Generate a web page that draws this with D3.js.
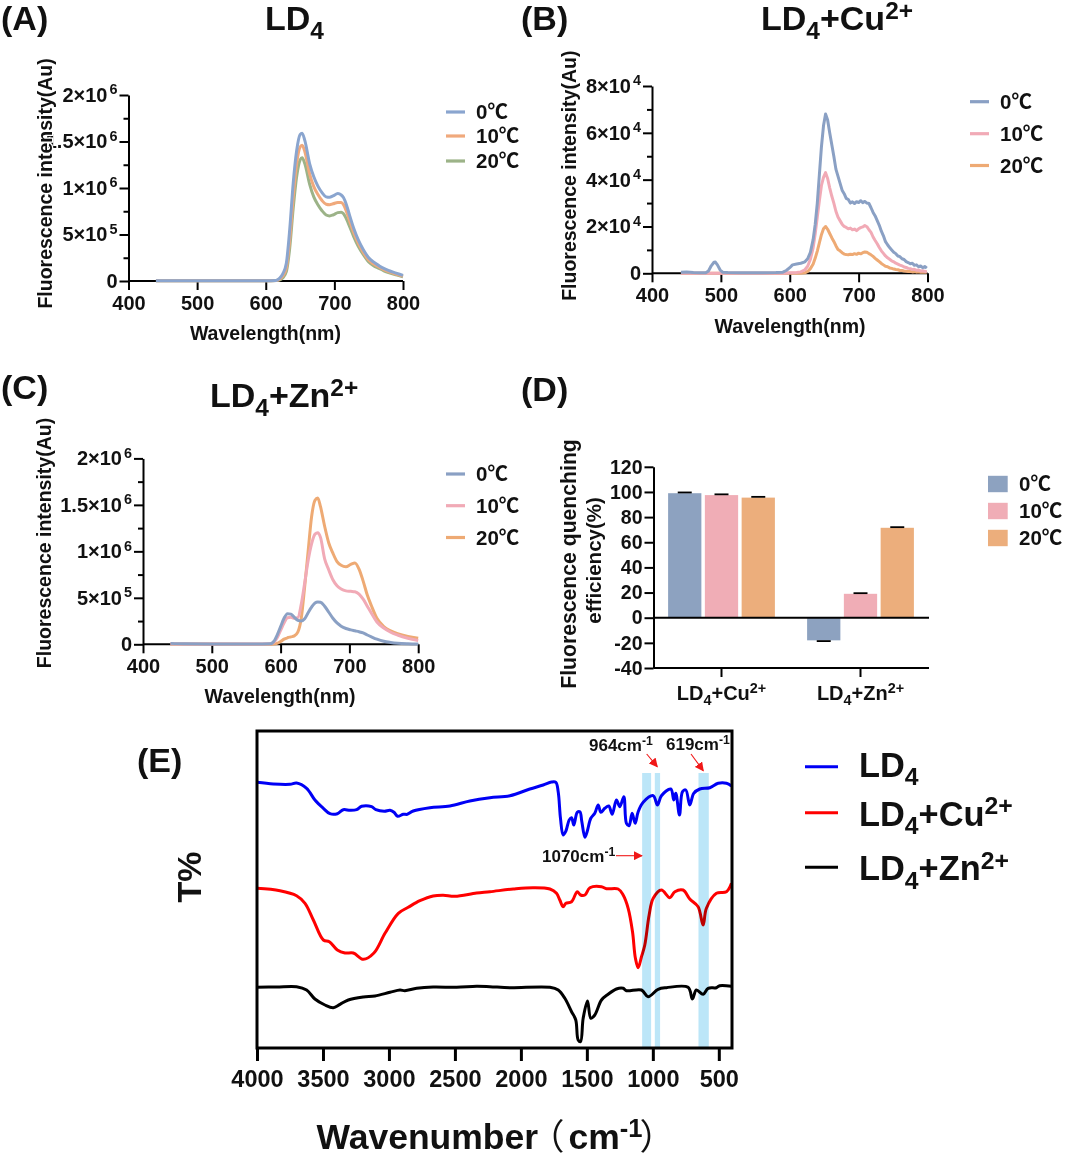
<!DOCTYPE html>
<html lang="en">
<head>
<meta charset="UTF-8">
<title>Fluorescence spectra</title>
<script src="https://d3js.org/d3.v7.min.js"></script>
<style>
  html, body { margin: 0; padding: 0; background: #fff; }
  svg { display: block; }
  text { font-family: "Liberation Sans", "Noto Sans CJK SC", sans-serif; font-weight: bold; fill: #111; }
  .axis path, .axis line { stroke: #000; stroke-width: 2px; }
</style>
</head>
<body>
<div id="chart"></div>
<script>
// panel A, wavelength (nm) and intensity (x 1000 Au)
const wlA = [440,500,600,615,620,625,630,635,640,645,650,653,657,664,670,676,682,688,693,698,705,710,713,718,722,728,735,742,750,757,765,772,780,790,800];
const a0 = [4,4,4,6,30,80,190,560,1050,1400,1575,1590,1510,1260,1120,1020,950,905,900,915,940,925,900,810,710,570,440,340,250,205,165,135,110,85,60];
const a10 = [4,4,4,6,20,55,140,450,900,1260,1440,1460,1390,1150,1015,930,865,825,820,830,845,845,825,740,650,525,405,310,225,185,150,122,98,74,52];
const a20 = [4,4,4,6,10,35,100,360,780,1120,1300,1325,1260,1040,905,820,755,710,700,710,735,740,725,660,590,480,370,285,205,165,135,110,88,66,46];

// panel B, x 1000 Au
const wlB = [442,450,460,470,478,482,486,490,492,495,499,503,510,530,560,580,590,595,600,604,610,616,622,626,630,634,637,
  640,643,646,649,652,655,658,661,664,667,670,673,676,679,682,685,688,691,694,697,700,703,706,709,712,715,718,721,724,727,730,733,736,739,742,745,748,751,754,757,760,763,766,769,772,775,778,781,784,787,790,793,796,799];
const b0 = [.5,.6,.3,.2,.2,1,3.2,4.7,4.8,3.6,1.4,.4,.3,.2,.2,.3,.5,1.2,2.4,3.6,4,4.3,4.9,6.2,9,14.5,21,
  30,42,54,63,68,65.5,60,55,50,44.5,41.5,38.5,35.5,34,32,31.5,30,30.5,29.8,30.6,30.2,31,30.2,30.7,30,29.8,28,26,24.5,22.5,20.5,18,16,13.5,12.2,11,10,9,8.4,7.4,7.1,6.2,5.9,5,4.6,4.1,4.3,3.4,3.6,2.8,3.1,2.4,2.9,2.2];
const b10 = [0,0,0,0,0,0,0,0,0,0,0,0,0,0,0,0,0,.1,.2,.2,.3,.6,1.5,3,6,11,17,
  24,31,37.5,41,43,40.5,36.5,33,30,26.5,24,22.5,21,20,19.6,19,19.3,18.6,18.9,18.2,19,19.5,19.8,20.4,19.9,18.6,17.5,15.5,14,12.6,11,9.6,8.5,7.4,6.6,6,5.3,4.9,4.3,3.9,3.5,3.2,2.7,2.5,2.1,2,1.6,1.7,1.3,1.4,1,1.1,.8,.8];
const b20 = [0,0,0,0,0,0,0,0,0,0,0,0,0,0,0,0,0,0,0,0,0,0,.2,.8,2,4,6.5,
  9.5,13,16.5,19,20,18.8,17,15.2,13.6,11.8,10.2,9.6,8.8,8.2,8,7.9,8.1,8,8.4,8.1,8.6,8.3,8.8,9.1,9,8.4,7.9,7.2,6.4,5.7,5,4.2,3.6,3,2.8,2.3,2.1,1.8,1.6,1.5,1.2,1.2,1,.9,.8,.8,.6,.7,.5,.6,.4,.5,.4,.4];

// panel C, x 1000 Au
const wlC = [440,460,500,560,585,590,595,600,605,610,615,620,625,630,635,640,645,650,654,658,664,670,676,682,688,695,702,708,714,720,726,732,740,750,760,770,785,800];
const c0 = [10,6,4,2,5,30,100,190,280,330,325,290,258,252,275,340,400,445,455,452,410,345,280,230,195,170,155,145,135,122,100,80,55,32,20,12,6,3];
const c10 = [5,3,3,2,5,20,70,150,230,285,290,280,285,430,660,900,1080,1185,1200,1150,920,800,695,630,595,575,570,565,540,485,410,335,240,175,130,100,65,40];
const c20 = [3,2,2,1,0,3,10,30,55,70,80,90,130,280,620,1000,1370,1550,1575,1480,1270,1090,980,890,850,835,860,875,810,680,530,415,280,190,145,115,85,65];

// panel D
const groupNames = ["Cu", "Zn"];
const tempNames = ["0℃", "10℃", "20℃"];
const quenchCu = [99, 97.5, 95.5];
const quenchZn = [-18, 19, 71.5];
const errCu = [.6, .6, .6];
const errZn = [.6, .5, .5];
const tickD = [-40,-20,0,20,40,60,80,100,120];

const blueWn = [4000,3876,3750,3700,3624,3561,3497,3447,3391,3346,3295,3245,3207,3131,3099,3035,2992,2962,2934,2891,2861,2816,2690,2538,2387,2235,2083,1932,1831,1768,1735,1717,1700,1680,1659,1634,1616,1599,1573,1553,1538,1515,1498,1470,1440,1414,1394,1364,1334,1308,1276,1250,1220,1200,1180,1157,1134,1111,1073,997,965,935,864,841,826,798,775,750,720,690,644,568,505,442,404];
const blueT = [265.7,264,263.7,265,259.7,248,239.7,234.3,234.3,238.3,237.7,238.3,241.7,241.3,238.3,236.7,237.7,235.7,231.7,233.7,233.7,237,240.3,242,247,250.3,252.3,259,263,266,265.7,256,229.7,213,217,228,230.3,223,235.7,236.3,226.3,210.7,216.3,229.7,234.7,243,235.7,239.7,242,233.7,248,241.3,251.3,224.7,222.3,234.7,224.7,236.3,245.7,252.3,243,252.3,259,248,254.7,233,256.3,258,243,254.7,259,260.3,264.7,264.7,262];
const redWn = [4000,3826,3700,3636,3573,3497,3452,3391,3333,3270,3194,3114,3030,2929,2854,2765,2665,2589,2500,2336,2235,2058,1907,1780,1730,1705,1680,1659,1616,1573,1548,1515,1477,1389,1351,1263,1225,1187,1154,1132,1111,1086,1061,1028,997,935,871,833,771,720,657,619,594,518,442,404];
const redT = [159.7,157.3,152.3,144.7,128,108,106.3,98,95,95,88.7,95,114.7,134.7,140.7,147.3,152,152.7,151.7,155,156.3,159,160.3,159,154.7,148,141.3,144.7,146.3,156.3,153,153,160.3,161.3,159.3,159,153,139.7,116.3,89.7,80.3,91.3,103,133,149.7,158,150.3,156.3,158,149,141.3,123,139.7,154.7,156.3,164.7];
const blackWn = [4000,3851,3700,3624,3561,3485,3422,3371,3308,3194,3106,2992,2916,2879,2790,2665,2487,2336,2235,2083,1780,1717,1667,1616,1584,1566,1548,1528,1495,1470,1440,1389,1339,1276,1225,1200,1086,1036,960,897,733,700,670,619,581,518,493,404];
const blackT = [60.7,61,61.3,58,49,43,40.3,43.7,48,51,52,55.7,58,57.3,59.7,61,60.7,61.7,61.3,60.3,60.7,58,49.7,36.3,28,8,6.3,29.7,47,29.7,33,48,53.7,59,59.7,57.3,58,51.3,58.7,60.3,60.7,49,58,53.7,59.7,60.3,62.3,61.7];
const bandStart = [1081, 985, 654];
const bandEnd = [1013, 945, 576];
const wnTicks = [4000,3500,3000,2500,2000,1500,1000,500];

const W = 1065, H = 1155;
const svg = d3.select("#chart").append("svg").attr("width", W).attr("height", H);

// writes text pieces, pieces with "sup" or "sub" get raised or lowered, p[2] is an optional dx
function rich(sel, parts, size) {
    let shift = 0;
    parts.forEach(p => {
        const want = p[1] === "sup" ? -size * .33 : p[1] === "sub" ? size * .25 : 0;
        sel.append("tspan")
            .attr("font-size", p[1] ? size * .72 : size)
            .attr("dy", want - shift)
            .attr("dx", p[2] || 0)
            .style("white-space", "pre")
            .style("font-weight", p[3] || null)
            .text(p[0]);
        shift = want;
    });
}

function label(x, y, parts, size, anchor, rotate) {
    const t = svg.append("text")
        .attr("text-anchor", anchor || "start")
        .attr("transform", `translate(${x},${y})` + (rotate ? ` rotate(${rotate})` : ""));
    rich(t, typeof parts === "string" ? [[parts]] : parts, size);
    return t;
}

// tick strings like 5×10^5 become a number with a raised exponent
function powerTicks(g, strings, size) {
    g.selectAll(".tick text").each(function (d, i) {
        const t = d3.select(this).text(null).attr("font-size", size);
        const bits = strings[i].split("^");
        t.append("tspan").attr("font-size", size).text(bits[0]);
        if (bits[1]) {
            t.append("tspan").attr("font-size", size * .72).attr("dx", 2).attr("dy", -size * .38).text(bits[1]);
        }
    });
}

function spectrum(c) {
    const x = d3.scaleLinear().domain([400, 800]).range(c.xr);
    const y = d3.scaleLinear().domain([0, c.ymax]).range(c.yr);

    const gx = svg.append("g").attr("class", "axis").attr("transform", `translate(0,${c.yr[0]})`)
        .call(d3.axisBottom(x).tickValues([400,500,600,700,800]).tickSize(9).tickPadding(6).tickSizeOuter(0));
    gx.selectAll("text").attr("font-size", 20).attr("fill", "#111");
    gx.select(".domain").attr("d", `M${c.xr[0]},0H${c.xr[1]}`);

    const gy = svg.append("g").attr("class", "axis").attr("transform", `translate(${c.xr[0]},0)`)
        .call(d3.axisLeft(y).tickValues(c.ticks).tickSize(9).tickPadding(2).tickSizeOuter(0));
    gy.selectAll("text").attr("fill", "#111");
    powerTicks(gy, c.tickText, 20);
    svg.append("g").attr("class", "axis").attr("transform", `translate(${c.xr[0]},0)`)
        .call(d3.axisLeft(y).tickValues(c.minor).tickSize(5).tickFormat("").tickSizeOuter(0))
        .select(".domain").remove();

    const line = d3.line().x((d, i) => x(c.wl[i])).y(d => y(d)).curve(c.curve);
    // coldest series ends up on top
    c.series.slice().reverse().forEach((s, i) => {
        svg.append("path").attr("d", line(s)).attr("fill", "none")
            .attr("stroke", c.colors[c.series.length - 1 - i]).attr("stroke-width", 3)
            .attr("stroke-linejoin", "round");
    });

    label(c.xTitle[0], c.xTitle[1], "Wavelength(nm)", 19.5, "middle");
    const yt = label(c.yTitle[0], c.yTitle[1], "Fluorescence intensity(Au)", 19.5, "middle", -90);
    // in panel A the title sits over the 1.5 tick label and hides its first digit
    if (c.halo) yt.attr("stroke", "#fff").attr("stroke-width", 2.5).attr("paint-order", "stroke");

    c.legendY.forEach((ly, i) => {
        svg.append("line").attr("x1", c.legendX).attr("x2", c.legendX + 19).attr("y1", ly).attr("y2", ly)
            .attr("stroke", c.colors[i]).attr("stroke-width", 3.2);
        label(c.legendX + 30, ly + 7, tempNames[i], 20.5);
    });
}

const tickM = [0, 500, 1000, 1500, 2000];
const tickMText = ["0", "5×10^5", "1×10^6", "1.5×10^6", "2×10^6"];
const minorM = [250, 750, 1250, 1750];

spectrum({
    wl: wlA, series: [a0, a10, a20], colors: ["#8aa5cf", "#f0a97c", "#9cb388"], curve: d3.curveMonotoneX, halo: true,
    xr: [128.5, 403], yr: [281, 95], ymax: 2000, ticks: tickM, tickText: tickMText, minor: minorM,
    xTitle: [265.4, 340], yTitle: [52.4, 183.4], legendX: 446, legendY: [112, 136, 161]
});
spectrum({
    wl: wlB, series: [b0, b10, b20], colors: ["#8aa0c4", "#f1aab6", "#eeaa74"], curve: d3.curveLinear,
    xr: [652, 927.5], yr: [273.3, 86], ymax: 80, ticks: [0,20,40,60,80],
    tickText: ["0", "2×10^4", "4×10^4", "6×10^4", "8×10^4"], minor: [10,30,50,70],
    xTitle: [790, 332.7], yTitle: [576, 175.7], legendX: 970, legendY: [101.7, 133.7, 165.5]
});
spectrum({
    wl: wlC, series: [c0, c10, c20], colors: ["#8aa0c4", "#f1aab6", "#eeaa74"], curve: d3.curveMonotoneX,
    xr: [143, 418.2], yr: [644.3, 458.4], ymax: 2000, ticks: tickM, tickText: tickMText, minor: minorM,
    xTitle: [280, 703], yTitle: [50.7, 543], legendX: 446, legendY: [474, 505.7, 537.5]
});

// panel D
const barColors = ["#8da2c0", "#f0adb6", "#ecae7c"];
const yD = d3.scaleLinear().domain([-40, 120]).range([668, 466.8]);
const xD = d3.scaleBand().domain(groupNames).range([652, 930]);
const xTemp = d3.scaleBand().domain(tempNames).range([-53.4, 53.4]).paddingInner(.095);
const quench = { Cu: quenchCu, Zn: quenchZn };
const errs = { Cu: errCu, Zn: errZn };

groupNames.forEach(g => {
    const cx = xD(g) + xD.bandwidth() / 2;
    svg.append("g").selectAll("rect").data(quench[g]).join("rect")
        .attr("x", (d, i) => cx + xTemp(tempNames[i]))
        .attr("width", xTemp.bandwidth())
        .attr("y", d => Math.min(yD(d), yD(0)))
        .attr("height", d => Math.abs(yD(d) - yD(0)))
        .attr("fill", (d, i) => barColors[i]);
    svg.append("g").selectAll("line").data(quench[g]).join("line")
        .attr("x1", (d, i) => cx + xTemp(tempNames[i]) + xTemp.bandwidth() / 2 - 7)
        .attr("x2", (d, i) => cx + xTemp(tempNames[i]) + xTemp.bandwidth() / 2 + 7)
        .attr("y1", (d, i) => yD(d + Math.sign(d) * errs[g][i]))
        .attr("y2", (d, i) => yD(d + Math.sign(d) * errs[g][i]))
        .attr("stroke", "#000").attr("stroke-width", 1.8);
});

const gyD = svg.append("g").attr("class", "axis").attr("transform", "translate(653.5,0)")
    .call(d3.axisLeft(yD).tickValues(tickD).tickSize(9).tickPadding(2).tickSizeOuter(0).tickFormat(d => String(d)));
gyD.selectAll("text").attr("font-size", 19.5).attr("fill", "#111");
const gxD = svg.append("g").attr("class", "axis").attr("transform", "translate(0,668)")
    .call(d3.axisBottom(xD).tickSize(9).tickFormat("").tickSizeOuter(0));
gxD.select(".domain").attr("d", "M653.5,0H929");
svg.append("line").attr("x1", 653.5).attr("x2", 929).attr("y1", yD(0)).attr("y2", yD(0))
    .attr("stroke", "#000").attr("stroke-width", 2);

label(xD("Cu") + xD.bandwidth() / 2, 699.5, [["LD"], ["4", "sub"], ["+Cu"], ["2+", "sup"]], 20, "middle");
label(xD("Zn") + xD.bandwidth() / 2, 699.5, [["LD"], ["4", "sub"], ["+Zn"], ["2+", "sup"]], 20, "middle");
label(576, 564, "Fluorescence quenching", 21.2, "middle", -90);
label(601, 560.4, "efficiency(%)", 20.5, "middle", -90);

[484, 511, 538].forEach((ly, i) => {
    svg.append("rect").attr("x", 988).attr("y", ly - 8.2).attr("width", 19.7).attr("height", 16.4).attr("fill", barColors[i]);
    label(1019, ly + 7, tempNames[i], 20.5);
});

// panel E
const xE = d3.scaleLinear().domain([4000, 400]).range([257, 732]);
const yE = d3.scaleLinear().domain([0, 317]).range([1048, 731]);
const lineE = d3.line().x(d => xE(d[0])).y(d => yE(d[1])).curve(d3.curveCatmullRom.alpha(.5));
[[blueWn, blueT, "#0000f5"], [redWn, redT, "#ff0000"], [blackWn, blackT, "#000"]].forEach(s => {
    svg.append("path").attr("d", lineE(d3.zip(s[0], s[1]))).attr("fill", "none")
        .attr("stroke", s[2]).attr("stroke-width", 3).attr("stroke-linejoin", "round");
});

svg.append("g").selectAll("rect").data(bandStart).join("rect")
    .attr("x", d => xE(d))
    .attr("width", (d, i) => xE(bandEnd[i]) - xE(d))
    .attr("y", yE(275))
    .attr("height", yE(0) - yE(275))
    .attr("fill", "#bce6f8")
    .style("mix-blend-mode", "multiply");

svg.append("rect").attr("x", 257).attr("y", 731).attr("width", 475).attr("height", 317)
    .attr("fill", "none").attr("stroke", "#000").attr("stroke-width", 3);
const gxE = svg.append("g").attr("class", "axis").attr("transform", "translate(0,1048)")
    .call(d3.axisBottom(xE).tickValues(wnTicks).tickSize(13).tickPadding(9).tickSizeOuter(0).tickFormat(d => String(d)));
gxE.select(".domain").remove();
gxE.selectAll("line").style("stroke-width", "3px");
gxE.selectAll("text").attr("font-size", 23.5).attr("fill", "#111");

label(316.5, 1149, [["Wavenumber"], ["（", null, -9, "normal"], [" cm", null, -6], ["-1", "sup"], ["）", null, -3, "normal"]], 35.5);
label(201, 877, "T%", 34, "middle", -90);

const red = "#f01818";
const defs = svg.append("defs");
defs.append("marker").attr("id", "arrow").attr("viewBox", "0 0 10 10").attr("refX", 9).attr("refY", 5)
    .attr("markerWidth", 9).attr("markerHeight", 9).attr("orient", "auto").attr("markerUnits", "userSpaceOnUse")
    .append("path").attr("d", "M0,0L10,5L0,10Z").attr("fill", red);
[[646.7, 754, 657.3, 766.7], [691, 754, 703.3, 770.7], [616, 855.7, 642, 855.7]].forEach(a => {
    svg.append("line").attr("x1", a[0]).attr("y1", a[1]).attr("x2", a[2]).attr("y2", a[3])
        .attr("stroke", red).attr("stroke-width", 1.1).attr("marker-end", "url(#arrow)");
});
label(589, 751, [["964cm"], ["-1", "sup"]], 17);
label(666, 750, [["619cm"], ["-1", "sup"]], 17);
label(542, 862, [["1070cm"], ["-1", "sup"]], 17);

[[766.7, "#0000f5", [["LD"], ["4", "sub"]], 776.7],
 [812.7, "#ff0000", [["LD"], ["4", "sub"], ["+Cu"], ["2+", "sup"]], 825.7],
 [867.3, "#000", [["LD"], ["4", "sub"], ["+Zn"], ["2+", "sup"]], 880]].forEach(e => {
    svg.append("line").attr("x1", 805).attr("x2", 838).attr("y1", e[0]).attr("y2", e[0])
        .attr("stroke", e[1]).attr("stroke-width", 3);
    label(859, e[3], e[2], 34.4);
});

// titles and panel letters
label(265, 30, [["LD"], ["4", "sub"]], 34);
label(761, 30, [["LD"], ["4", "sub"], ["+Cu"], ["2+", "sup"]], 34);
label(210, 407, [["LD"], ["4", "sub"], ["+Zn"], ["2+", "sup"]], 34);
label(1, 30, "(A)", 34);
label(521, 30, "(B)", 34);
label(1, 399, "(C)", 34);
label(521, 401, "(D)", 34);
label(137, 772, "(E)", 34);
</script>
</body>
</html>
